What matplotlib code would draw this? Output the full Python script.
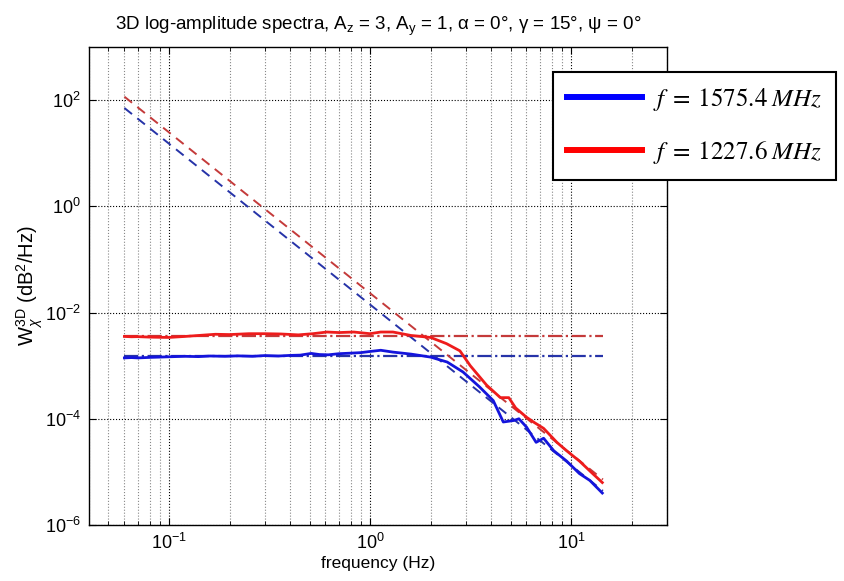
import matplotlib
matplotlib.use("Agg")
import matplotlib.pyplot as plt
from matplotlib.lines import Line2D

plt.rcParams["font.family"] = ["Liberation Sans", "DejaVu Sans"]
plt.rcParams["mathtext.fontset"] = "custom"
plt.rcParams["mathtext.rm"] = "Liberation Sans"
plt.rcParams["mathtext.it"] = "Liberation Sans:italic"

# measured spectra (noisy), f in Hz
f_blue = [0.060, 0.065, 0.070, 0.080, 0.090, 0.10, 0.12, 0.14, 0.16, 0.19,
          0.22, 0.26, 0.30, 0.35, 0.40, 0.45, 0.51, 0.56, 0.62, 0.70,
          0.80, 0.90, 1.0, 1.13, 1.3, 1.6, 2.0, 2.42, 2.9, 3.5,
          4.1, 4.6, 5.2, 5.5, 6.0, 6.7, 7.3, 8.2, 9.5, 11.0, 12.4, 14.3]
w_blue = [1.40e-3, 1.42e-3, 1.40e-3, 1.43e-3, 1.45e-3, 1.47e-3, 1.50e-3, 1.48e-3, 1.52e-3, 1.50e-3,
          1.53e-3, 1.50e-3, 1.55e-3, 1.52e-3, 1.56e-3, 1.58e-3, 1.70e-3, 1.62e-3, 1.60e-3, 1.68e-3,
          1.72e-3, 1.76e-3, 1.85e-3, 1.95e-3, 1.80e-3, 1.65e-3, 1.45e-3, 1.17e-3, 7.6e-4, 4.0e-4,
          2.2e-4, 8.7e-5, 9.3e-5, 1.0e-4, 7.0e-5, 3.6e-5, 4.3e-5, 2.5e-5, 1.6e-5, 9.3e-6, 6.9e-6, 4.0e-6]

f_red = [0.060, 0.065, 0.070, 0.080, 0.090, 0.10, 0.12, 0.14, 0.17, 0.20,
         0.25, 0.30, 0.36, 0.44, 0.52, 0.61, 0.70, 0.83, 1.0, 1.13,
         1.3, 1.6, 2.0, 2.4, 2.8, 3.15, 3.8, 4.45, 4.9, 5.3,
         6.0, 6.5, 7.3, 8.5, 9.5, 11.0, 12.8, 14.3]
w_red = [3.55e-3, 3.50e-3, 3.52e-3, 3.45e-3, 3.42e-3, 3.40e-3, 3.55e-3, 3.70e-3, 3.90e-3, 3.85e-3,
         4.00e-3, 4.00e-3, 3.95e-3, 3.80e-3, 4.00e-3, 4.30e-3, 4.20e-3, 4.30e-3, 4.00e-3, 4.30e-3,
         4.30e-3, 3.70e-3, 3.40e-3, 2.60e-3, 1.90e-3, 1.00e-3, 4.3e-4, 2.5e-4, 2.5e-4, 1.6e-4,
         1.07e-4, 8.7e-5, 6.6e-5, 3.6e-5, 2.5e-5, 1.6e-5, 9.3e-6, 6.3e-6]

# high-frequency asymptotes (straight on log-log: end points)
f_asym = [0.06, 14.4]
w_asym_blue = [71.0, 4.4e-6]
w_asym_red = [116.0, 7.2e-6]

# low-frequency plateaus
f_plat = [0.06, 14.4]
w_plat_blue = [1.49e-3, 1.49e-3]
w_plat_red = [3.6e-3, 3.6e-3]

labels = [r"$f\;=\;\mathrm{1575.4}\;MHz$", r"$f\;=\;\mathrm{1227.6}\;MHz$"]

fig = plt.figure(figsize=(8.44, 5.81), dpi=100, facecolor="white")
ax = fig.add_axes([89 / 844, 1 - 525 / 581, (667 - 89) / 844, (525 - 47) / 581])

ax.loglog(f_plat, w_plat_red, "-.", color="#c43a3a", lw=1.6)
ax.loglog(f_plat, w_plat_blue, "-.", color="#2633a8", lw=1.6)
ax.loglog(f_asym, w_asym_red, "--", color="#c43a3a", lw=1.4, dashes=(5, 3.5))
ax.loglog(f_asym, w_asym_blue, "--", color="#2633a8", lw=1.4, dashes=(5, 3.5))
ax.loglog(f_red, w_red, "-", color="#ee1c1c", lw=2.0)
ax.loglog(f_blue, w_blue, "-", color="#1414dc", lw=2.0)

ax.set_xlim(0.04, 30)
ax.set_ylim(1e-6, 1e3)
ax.set_yticks([1e-6, 1e-4, 1e-2, 1e0, 1e2])
ax.yaxis.set_minor_locator(matplotlib.ticker.NullLocator())

ax.grid(True, which="major", linestyle=":", color="black", lw=0.8)
ax.grid(True, which="minor", axis="x", linestyle=":", color="#888888", lw=0.8)
ax.tick_params(which="both", direction="in", top=True, right=True, labelsize=13)
ax.tick_params(which="major", length=5, pad=6)
ax.tick_params(which="minor", length=3)
for s in ax.spines.values():
    s.set_linewidth(1.0)

ax.set_title("3D log-amplitude spectra, A$_\\mathrm{z}$ = 3, A$_\\mathrm{y}$ = 1, α = 0°, γ = 15°, ψ = 0°",
             fontsize=13.5, pad=12)
ax.set_xlabel("frequency (Hz)", fontsize=12.5, labelpad=2)
ax.set_ylabel(r"W$_\chi^{\mathrm{3D}}$ (dB$^2$/Hz)", fontsize=14.5, labelpad=0)

handles = [Line2D([], [], color="#0000ff", lw=4.3), Line2D([], [], color="#ff0000", lw=4.3)]
leg = ax.legend(handles, labels, loc="upper left", bbox_to_anchor=(553 / 844, 1 - 72 / 581),
                bbox_transform=fig.transFigure, borderaxespad=0, fancybox=False,
                framealpha=1, edgecolor="black", handlelength=3.0, handletextpad=0.45,
                borderpad=0.55, labelspacing=1.05,
                prop={"family": "STIXGeneral", "size": 18})
leg.get_frame().set_linewidth(1.5)
for t in leg.get_texts():
    t.set_math_fontfamily("stix")

fig.savefig("out.png", dpi=100, facecolor="white")
